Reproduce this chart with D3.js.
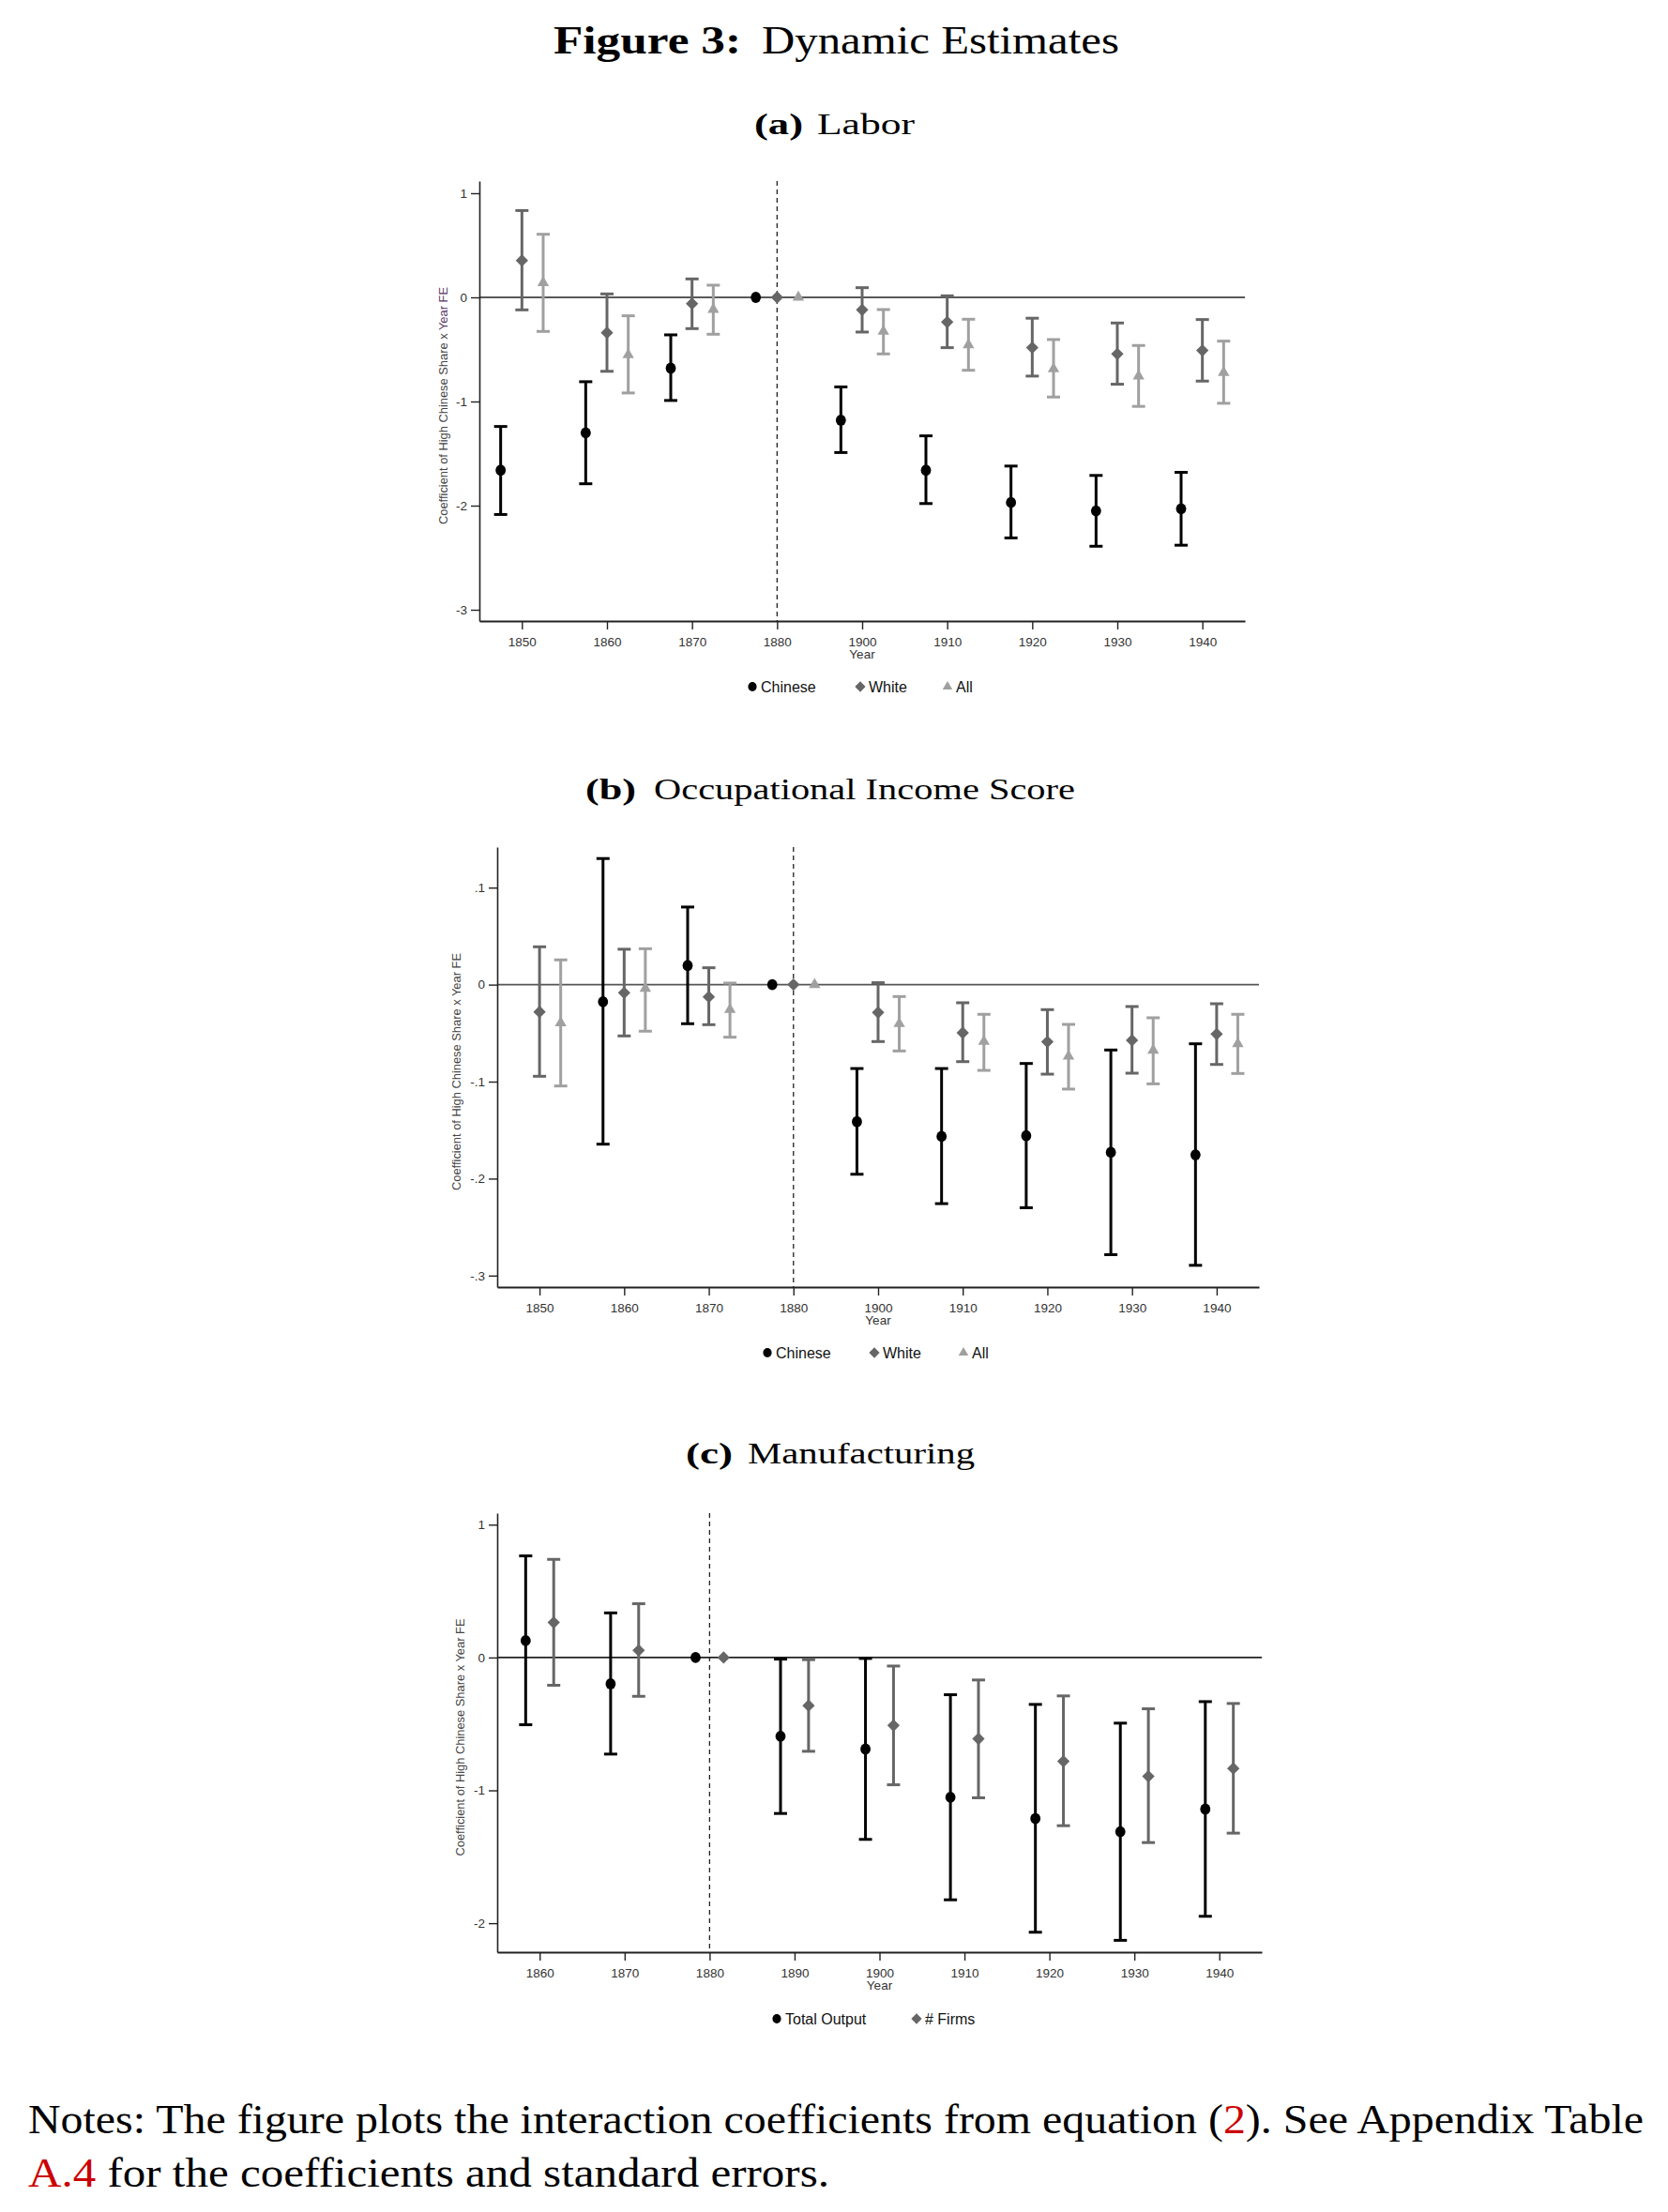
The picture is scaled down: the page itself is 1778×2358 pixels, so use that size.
<!DOCTYPE html>
<html>
<head>
<meta charset="utf-8">
<script src="https://cdn.jsdelivr.net/npm/d3@7"></script>
<style>
  html, body { margin: 0; padding: 0; background: #fff; }
  svg { display: block; }
</style>
</head>
<body>
<svg id="chart" width="1778" height="2358"></svg>
<script>
// ---------------- DATA ----------------
const yearsAB = ["1850","1860","1870","1880","1900","1910","1920","1930","1940"];
const yearsC  = ["1860","1870","1880","1890","1900","1910","1920","1930","1940"];

const laborTicks = [-3,-2,-1,0,1];
const occTicks = [-0.3,-0.2,-0.1,0,0.1];
const mfgTicks = [-2,-1,0,1];

// (a) Labor
const laborChinese   = [-1.66,-1.30,-0.68,0,-1.18,-1.66,-1.97,-2.05,-2.03];
const laborChineseLo = [-2.085,-1.79,-0.99,null,-1.49,-1.98,-2.31,-2.39,-2.38];
const laborChineseHi = [-1.24,-0.81,-0.36,null,-0.86,-1.33,-1.62,-1.71,-1.68];
const laborWhite     = [0.354,-0.34,-0.06,0,-0.12,-0.237,-0.483,-0.543,-0.51];
const laborWhiteLo   = [-0.12,-0.71,-0.30,null,-0.333,-0.483,-0.756,-0.834,-0.804];
const laborWhiteHi   = [0.834,0.033,0.177,null,0.093,0.015,-0.20,-0.246,-0.213];
const laborAll       = [0.14,-0.552,-0.117,0,-0.327,-0.456,-0.687,-0.756,-0.723];
const laborAllLo     = [-0.327,-0.918,-0.354,null,-0.543,-0.70,-0.957,-1.047,-1.017];
const laborAllHi     = [0.606,-0.177,0.117,null,-0.117,-0.21,-0.405,-0.462,-0.42];

// (b) Occupational Income Score
const occChinese   = [null,-0.0177,0.0197,0,-0.1413,-0.1565,-0.1558,-0.1729,-0.1755];
const occChineseLo = [null,-0.1645,-0.0403,null,-0.1955,-0.2258,-0.230,-0.2784,-0.2894];
const occChineseHi = [null,0.130,0.080,null,-0.0865,-0.0865,-0.0813,-0.0674,-0.061];
const occWhite     = [-0.0281,-0.0084,-0.0126,0,-0.0287,-0.0497,-0.059,-0.0574,-0.051];
const occWhiteLo   = [-0.0945,-0.0529,-0.0413,null,-0.0587,-0.0794,-0.0923,-0.0913,-0.0823];
const occWhiteHi   = [0.039,0.0365,0.0174,null,0.002,-0.0187,-0.0258,-0.0226,-0.0197];
const occAll       = [-0.0394,-0.0039,-0.0258,0,-0.0403,-0.0587,-0.0739,-0.0677,-0.061];
const occAllLo     = [-0.1045,-0.048,-0.0542,null,-0.0684,-0.0884,-0.1077,-0.1023,-0.0916];
const occAllHi     = [0.0255,0.037,0.0016,null,-0.0123,-0.0306,-0.041,-0.0342,-0.0306];

// (c) Manufacturing
const mfgOutput   = [0.127,-0.198,0,-0.593,-0.689,-1.052,-1.212,-1.311,-1.141];
const mfgOutputLo = [-0.506,-0.727,null,-1.174,-1.369,-1.824,-2.068,-2.129,-1.948];
const mfgOutputHi = [0.765,0.336,null,-0.012,-0.007,-0.28,-0.353,-0.494,-0.332];
const mfgFirms    = [0.264,0.054,0,-0.362,-0.511,-0.612,-0.781,-0.894,-0.835];
const mfgFirmsLo  = [-0.209,-0.292,null,-0.706,-0.958,-1.056,-1.266,-1.393,-1.322];
const mfgFirmsHi  = [0.739,0.405,null,-0.016,-0.064,-0.169,-0.289,-0.386,-0.346];

const seriesNamesAB = ["Chinese","White","All"];
const seriesNamesC  = ["Total Output","# Firms"];

// ---------------- STYLE ----------------
const SANS = "'Liberation Sans', Arial, sans-serif";
const SERIF = "'Liberation Serif', 'DejaVu Serif', serif";
const COL_CH = "#000000", COL_WH = "#666666", COL_ALL = "#a0a0a0";

const svg = d3.select("#chart");

// ---------------- TITLES ----------------
function txt(x, y, s, size, opts = {}) {
  const t = svg.append("text").attr("x", x).attr("y", y)
    .attr("font-family", opts.family || SERIF).attr("font-size", size)
    .attr("font-weight", opts.bold ? "bold" : "normal")
    .attr("fill", opts.fill || "#000").text(s);
  if (opts.len) t.attr("textLength", opts.len).attr("lengthAdjust", "spacingAndGlyphs");
  if (opts.anchor) t.attr("text-anchor", opts.anchor);
  return t;
}
txt(590, 57, "Figure 3:", 42, {bold: true, len: 200});
txt(812, 57, "Dynamic Estimates", 42, {len: 381});

txt(804, 143, "(a)", 31, {bold: true, len: 52});
txt(871, 143, "Labor", 31, {len: 104});
txt(624, 852, "(b)", 31, {bold: true, len: 54});
txt(697, 852, "Occupational Income Score", 31, {len: 449});
txt(731, 1560, "(c)", 31, {bold: true, len: 50});
txt(797, 1560, "Manufacturing", 31, {len: 242});

// Notes
const n1 = svg.append("text").attr("x", 30).attr("y", 2274)
  .attr("font-family", SERIF).attr("font-size", 45)
  .attr("textLength", 1722).attr("lengthAdjust", "spacingAndGlyphs");
n1.append("tspan").text("Notes: The figure plots the interaction coefficients from equation (");
n1.append("tspan").attr("fill", "#cc0000").text("2");
n1.append("tspan").text("). See Appendix Table");
const n2 = svg.append("text").attr("x", 30).attr("y", 2331)
  .attr("font-family", SERIF).attr("font-size", 45)
  .attr("textLength", 854).attr("lengthAdjust", "spacingAndGlyphs");
n2.append("tspan").attr("fill", "#cc0000").text("A.4");
n2.append("tspan").text(" for the coefficients and standard errors.");

// ---------------- PANELS ----------------
const hy = s => s.replace("\u2212", "-");
const fmtInt = d => hy(d3.format("d")(d));
const fmtDec = d => d === 0 ? "0" : hy(d3.format(".1f")(d)).replace("0.", ".");

const panels = [
  {
    cats: yearsAB, ref: "1880", domain: [-3.108, 1.117], ticks: laborTicks, fmt: fmtInt,
    left: 511, right: 1327, top: 193, bottom: 662, ytitleX: 472,
    zeroCol: "#222", legendY: 732,
    series: [
      {name: seriesNamesAB[0], v: laborChinese, lo: laborChineseLo, hi: laborChineseHi, col: COL_CH, shape: "circle", off: -0.25, lx: 802},
      {name: seriesNamesAB[1], v: laborWhite, lo: laborWhiteLo, hi: laborWhiteHi, col: COL_WH, shape: "diamond", off: 0, lx: 917},
      {name: seriesNamesAB[2], v: laborAll, lo: laborAllLo, hi: laborAllHi, col: COL_ALL, shape: "triangle", off: 0.25, lx: 1010}
    ]
  },
  {
    cats: yearsAB, ref: "1880", domain: [-0.3118, 0.1418], ticks: occTicks, fmt: fmtDec,
    left: 530, right: 1342, top: 903, bottom: 1372, ytitleX: 486,
    zeroCol: "#555", legendY: 1442,
    series: [
      {name: seriesNamesAB[0], v: occChinese, lo: occChineseLo, hi: occChineseHi, col: COL_CH, shape: "circle", off: -0.25, lx: 818},
      {name: seriesNamesAB[1], v: occWhite, lo: occWhiteLo, hi: occWhiteHi, col: COL_WH, shape: "diamond", off: 0, lx: 932},
      {name: seriesNamesAB[2], v: occAll, lo: occAllLo, hi: occAllHi, col: COL_ALL, shape: "triangle", off: 0.25, lx: 1027}
    ]
  },
  {
    cats: yearsC, ref: "1880", domain: [-2.218, 1.087], ticks: mfgTicks, fmt: fmtInt,
    left: 530, right: 1345, top: 1613, bottom: 2081, ytitleX: 490,
    zeroCol: "#222", legendY: 2152,
    series: [
      {name: seriesNamesC[0], v: mfgOutput, lo: mfgOutputLo, hi: mfgOutputHi, col: COL_CH, shape: "circle", off: -0.165, lx: 828},
      {name: seriesNamesC[1], v: mfgFirms, lo: mfgFirmsLo, hi: mfgFirmsHi, col: COL_WH, shape: "diamond", off: 0.165, lx: 977}
    ]
  }
];

function marker(g, shape, cx, cy, col, k) {
  if (shape === "circle") {
    g.append("ellipse").attr("cx", cx).attr("cy", cy).attr("rx", 5.4 * k).attr("ry", 5.9 * k).attr("fill", col);
  } else if (shape === "diamond") {
    g.append("path").attr("d", d3.symbol(d3.symbolSquare, 88 * k * k)())
      .attr("transform", `translate(${cx},${cy}) rotate(45)`).attr("fill", col);
  } else {
    g.append("path").attr("d", d3.symbol(d3.symbolTriangle, 66 * k * k)())
      .attr("transform", `translate(${cx},${cy})`).attr("fill", col);
  }
}

panels.forEach(p => {
  const g = svg.append("g");
  const x = d3.scalePoint().domain(p.cats).range([p.left, p.right]).padding(0.5);
  const y = d3.scaleLinear().domain(p.domain).range([p.bottom, p.top]);
  const step = x.step();

  // dashed reference line
  g.append("line").attr("x1", x(p.ref)).attr("x2", x(p.ref))
    .attr("y1", p.top).attr("y2", p.bottom)
    .attr("stroke", "#222").attr("stroke-width", 1.3).attr("stroke-dasharray", "5,4");

  // zero line
  g.append("line").attr("x1", p.left).attr("x2", p.right)
    .attr("y1", y(0)).attr("y2", y(0))
    .attr("stroke", p.zeroCol).attr("stroke-width", 1.6);

  // y axis
  const ya = g.append("g").attr("transform", `translate(${p.left},0)`)
    .call(d3.axisLeft(y).tickValues(p.ticks).tickFormat(p.fmt).tickSize(9).tickSizeOuter(0).tickPadding(4));
  ya.select(".domain").attr("stroke", "#222").attr("stroke-width", 1.6);
  ya.selectAll(".tick line").attr("stroke", "#222").attr("stroke-width", 1.4);
  ya.selectAll(".tick text").attr("font-family", SANS).attr("font-size", 13.5).attr("fill", "#333");

  // x axis
  const xa = g.append("g").attr("transform", `translate(0,${p.bottom})`)
    .call(d3.axisBottom(x).tickSize(9).tickSizeOuter(0).tickPadding(8));
  xa.select(".domain").attr("stroke", "#222").attr("stroke-width", 1.8);
  xa.selectAll(".tick line").attr("stroke", "#222").attr("stroke-width", 1.4);
  xa.selectAll(".tick text").attr("font-family", SANS).attr("font-size", 13.5).attr("fill", "#333");

  // x title
  g.append("text").attr("x", x("1900")).attr("y", p.bottom + 40)
    .attr("text-anchor", "middle").attr("font-family", SANS).attr("font-size", 13.5)
    .attr("fill", "#333").text("Year");

  // y title
  const cy = (p.top + p.bottom) / 2 + 5;
  const yt = g.append("text").attr("transform", `translate(${p.ytitleX},${cy}) rotate(-90)`)
    .attr("text-anchor", "middle").attr("dy", "0.35em")
    .attr("font-family", SANS).attr("font-size", 13).attr("fill", "#444")
    .attr("textLength", 253).attr("lengthAdjust", "spacingAndGlyphs");
  yt.append("tspan").text("Coefficient of High Chinese Share x ");
  yt.append("tspan").attr("fill", p === panels[0] ? "#5b3b68" : "#444").text("Year FE");

  // series
  p.series.forEach(s => {
    const sg = g.append("g");
    p.cats.forEach((c, i) => {
      if (s.v[i] === null) return;
      const cx = x(c) + s.off * step;
      if (s.lo[i] !== null && s.hi[i] !== null) {
        sg.append("line").attr("x1", cx).attr("x2", cx)
          .attr("y1", y(s.hi[i])).attr("y2", y(s.lo[i]))
          .attr("stroke", s.col).attr("stroke-width", 3);
        [s.hi[i], s.lo[i]].forEach(v => {
          sg.append("line").attr("x1", cx - 7).attr("x2", cx + 7)
            .attr("y1", y(v)).attr("y2", y(v))
            .attr("stroke", s.col).attr("stroke-width", 3);
        });
      }
      marker(sg, s.shape, cx, y(s.v[i]), s.col, 1);
    });
  });

  // legend
  const lg = g.append("g");
  p.series.forEach(s => {
    marker(lg, s.shape, s.lx, p.legendY, s.col, 0.85);
    lg.append("text").attr("x", s.lx + 9).attr("y", p.legendY).attr("dy", "0.36em")
      .attr("font-family", SANS).attr("font-size", 16).attr("fill", "#111").text(s.name);
  });
});
</script>
</body>
</html>
